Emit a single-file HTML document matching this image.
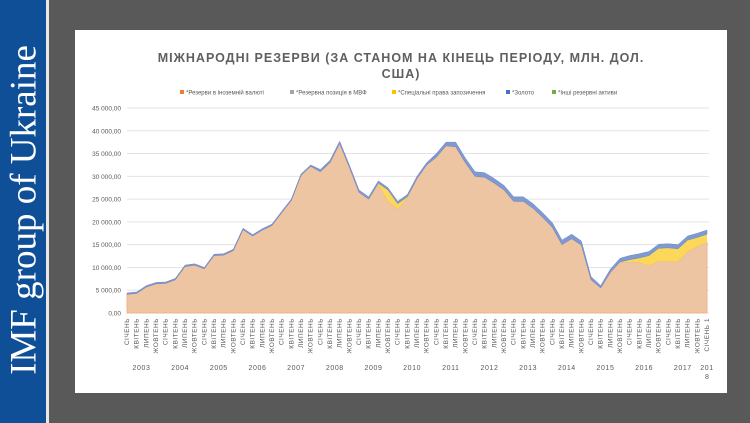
<!DOCTYPE html>
<html><head><meta charset="utf-8">
<style>
html,body{margin:0;padding:0;}
body{width:750px;height:423px;overflow:hidden;background:#595959;position:relative;font-family:"Liberation Sans",sans-serif;}
#side{position:absolute;left:0;top:0;width:46px;height:423px;background:#0f4f97;}
#sideline{position:absolute;left:46px;top:0;width:3px;height:423px;background:#e8e8e8;}
#sidetext{position:absolute;left:24px;top:210px;transform:translate(-50%,-50%) rotate(-90deg);white-space:nowrap;color:#fff;font-family:"Liberation Serif",serif;font-size:37px;}
svg{position:absolute;left:0;top:0;}
</style></head><body>
<div id="side"></div>
<div id="sideline"></div>
<div id="sidetext">IMF group of Ukraine</div>
<svg id="chart" width="750" height="423"></svg>
<script>
const years=["2003","2004","2005","2006","2007","2008","2009","2010","2011","2012","2013","2014","2015","2016","2017","2018"];
const quarterLabels=["СІЧЕНЬ","КВІТЕНЬ","ЛИПЕНЬ","ЖОВТЕНЬ"];
const yTicks=[0,5000,10000,15000,20000,25000,30000,35000,40000,45000];
const totalReserves=[4.4,4.6,6.0,6.7,6.8,7.6,10.5,10.8,10.0,12.9,13.0,14.0,18.6,17.2,18.5,19.5,22.3,25.0,30.5,32.5,31.5,33.5,37.7,32.5,27.0,25.5,29.0,27.5,24.5,26.0,30.0,33.0,35.0,37.5,37.5,34.0,31.0,30.8,29.5,28.0,25.5,25.5,24.0,22.0,19.8,16.0,17.3,15.8,8.0,6.0,9.6,12.0,12.6,13.0,13.5,15.1,15.2,15.0,16.9,17.5,18.2];
const goldValues=[0.3,0.3,0.3,0.3,0.3,0.3,0.3,0.3,0.3,0.3,0.3,0.3,0.3,0.3,0.3,0.3,0.3,0.3,0.3,0.3,0.5,0.5,0.5,0.5,0.5,0.5,0.5,0.5,0.5,0.5,0.5,0.5,0.8,0.8,1.0,1.0,1.0,1.0,1.0,1.0,1.0,1.0,1.0,1.0,1.0,1.0,1.0,0.9,0.7,0.5,0.7,0.8,0.9,0.9,0.9,0.9,0.9,0.9,0.9,0.9,0.9];
const sdrValues=[0,0,0,0,0,0,0,0,0,0,0,0,0,0,0,0,0,0,0,0,0,0,0,0,0,0,0.3,2.5,1.2,0.3,0,0,0,0,0,0,0,0,0,0,0,0,0,0,0,0,0,0,0,0,0,0,0.5,1.0,2.2,2.8,3.0,2.8,2.5,2.0,1.8];

const svg=document.getElementById('chart');
const NS="http://www.w3.org/2000/svg";
function mk(t,a,p){const e=document.createElementNS(NS,t);for(const k in a)e.setAttribute(k,a[k]);(p||svg).appendChild(e);return e;}
const X0=127,X1=707,Y0=313,Y45=108;
const n=totalReserves.length;
function xs(i){return X0+i*(X1-X0)/(n-1);}
function ys(v){return Y0-(v/45000)*(Y0-Y45);}

const panel=mk('rect',{x:75,y:30,width:652,height:363,fill:'#ffffff'});


const t1=mk('text',{x:401,y:62,'text-anchor':'middle','font-size':'12.5','font-weight':'bold','letter-spacing':'1.0',fill:'#5f5f5f'});
t1.textContent="МІЖНАРОДНІ РЕЗЕРВИ   (ЗА СТАНОМ НА КІНЕЦЬ ПЕРІОДУ,  МЛН. ДОЛ.";

const t2=mk('text',{x:401,y:78,'text-anchor':'middle','font-size':'12.5','font-weight':'bold','letter-spacing':'1.0',fill:'#5f5f5f'});
t2.textContent="США)";


const legend=[["#ed7d31","*Резерви в іноземній валюті",180],["#a5a5a5","*Резервна позиція в МВФ",290],["#ffc000","*Спеціальні права запозичення",392],["#4472c4","*Золото",506],["#70ad47","*Інші резервні активи",552]];
legend.forEach(l=>{
 const g=mk('g',{});
 
 mk('rect',{x:l[2],y:90,width:4,height:4,fill:l[0]},g);
 const tx=mk('text',{x:l[2]+6,y:94.5,'font-size':'6',fill:'#595959'},g);tx.textContent=l[1];
});

yTicks.forEach(v=>{
 const ln=mk('line',{x1:X0,x2:709,y1:ys(v),y2:ys(v),stroke:'#e3e3e3','stroke-width':'1'});
 
 const tx=mk('text',{x:121,y:ys(v)+2.5,'text-anchor':'end','font-size':'6.5',fill:'#595959'});
 tx.textContent=v.toLocaleString('ru-RU').replace(/\s/g,' ')+',00';
 
});

function areaPath(top,bot){let d='M'+xs(0)+','+ys(top[0]*1000);for(let i=1;i<n;i++)d+='L'+xs(i)+','+ys(top[i]*1000);for(let i=n-1;i>=0;i--)d+='L'+xs(i)+','+ys(bot[i]*1000);return d+'Z';}
const zero=totalReserves.map(()=>0);
const fx=totalReserves.map((t,i)=>t-goldValues[i]-sdrValues[i]);
const fxSdr=fx.map((v,i)=>v+sdrValues[i]);
const a1=mk('path',{d:areaPath(fx,zero),fill:'#eec5a2',stroke:'#f2b48a','stroke-width':'1'});

const a2=mk('path',{d:areaPath(fxSdr,fx),fill:'#fbd857'});

const a3=mk('path',{d:areaPath(totalReserves,fxSdr),fill:'#7f9ad3',stroke:'#6a86c4','stroke-width':'0.5'});


for(let i=0;i<n;i++){
 const lab=i==n-1?"СІЧЕНЬ 1":quarterLabels[i%4];
 const x=xs(i);
 const tx=mk('text',{x:0,y:0,transform:'translate('+(x+2)+',318) rotate(-90)','text-anchor':'end','font-size':'6.5','letter-spacing':'0.5',fill:'#595959'});
 tx.textContent=lab;
 
}
years.forEach((y,k)=>{
 const last=k==years.length-1;
 const x=last?xs(60):(xs(k*4)+xs(k*4+3))/2;
 const tx=mk('text',{x:x,y:370,'text-anchor':'middle','font-size':'7','letter-spacing':'0.6',fill:'#595959'});
 tx.textContent=last?"201":y;
 
 if(last){const t8=mk('text',{x:x,y:379,'text-anchor':'middle','font-size':'7',fill:'#595959'});t8.textContent="8";
 }
});
</script>
</body></html>
